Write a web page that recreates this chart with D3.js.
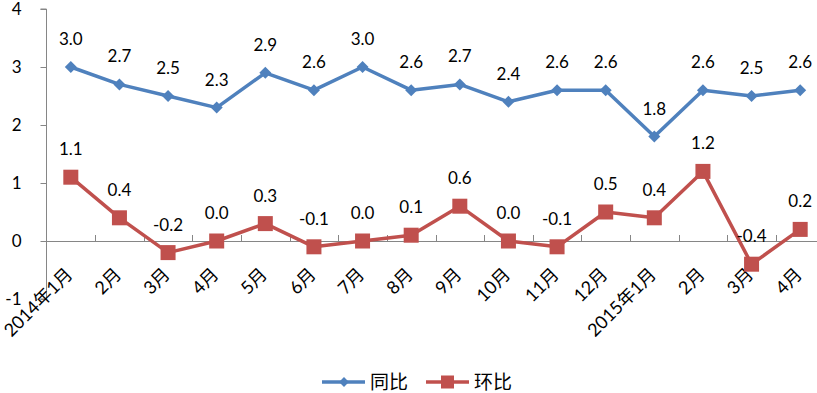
<!DOCTYPE html>
<html><head><meta charset="utf-8">
<script src="https://cdn.jsdelivr.net/npm/d3@7"></script>
<style>body{margin:0;background:#fff}svg{display:block}</style>
</head><body><svg id="c" width="817" height="393"></svg>
<script>
const categories = ["2014年1月","2月","3月","4月","5月","6月","7月","8月","9月","10月","11月","12月","2015年1月","2月","3月","4月"];
const tongbi = [3.0,2.7,2.5,2.3,2.9,2.6,3.0,2.6,2.7,2.4,2.6,2.6,1.8,2.6,2.5,2.6];
const huanbi = [1.1,0.4,-0.2,0.0,0.3,-0.1,0.0,0.1,0.6,0.0,-0.1,0.5,0.4,1.2,-0.4,0.2];
const yTicks = [-1,0,1,2,3,4];
const seriesNames = ["同比","环比"];
const colors = ["#4F81BD","#C0504D"];

const svg = d3.select("#c");
const font = "Lato, 'Noto Sans CJK SC', sans-serif";
const idx = categories.map((c,i)=>i);
const x = d3.scaleBand().domain(idx).range([46.5, 824.5]);
const cx = i => x(i) + x.bandwidth()/2;
const y = d3.scaleLinear().domain([-1,4]).range([299,9]);
const axisColor = "#868686";
const fmt1 = d => d3.format(".1f")(d).replace("\u2212","-");

// y axis
const ya = svg.append("g").attr("transform","translate(46.5,0)")
  .call(d3.axisLeft(y).tickValues(yTicks).tickSize(6).tickPadding(19).tickFormat(d=>String(d)));
ya.select(".domain").attr("stroke",axisColor).attr("d",`M-6,${y(4)}H0V${y(-1)}H-6`);
ya.selectAll(".tick line").attr("stroke",axisColor);
ya.selectAll(".tick text").attr("font-family",font).attr("font-size",17).attr("fill","#000");

// x axis at zero
const xa = svg.append("g").attr("transform",`translate(0,${y(0)})`);
xa.append("line").attr("x1",46.5).attr("x2",824.5).attr("y1",0.5).attr("y2",0.5).attr("stroke",axisColor);
const bounds = idx.map(i=>x(i)+x.bandwidth());
xa.selectAll("line.tk").data(bounds).join("line").attr("class","tk")
  .attr("x1",d=>Math.round(d)+0.5).attr("x2",d=>Math.round(d)+0.5).attr("y1",0).attr("y2",-6).attr("stroke",axisColor);

// x labels
svg.append("g").selectAll("text").data(idx).join("text")
  .attr("transform",i=>`translate(${cx(i)-1.5},${y(0)+30}) rotate(-45)`)
  .attr("text-anchor","end").attr("dy","0.35em")
  .attr("font-family",font).attr("font-size",18).attr("fill","#000").text(i=>categories[i]);

const line = d3.line().x((d,i)=>cx(i)).y(d=>y(d));
const data = [tongbi, huanbi];
data.forEach((vals,k)=>{
  const g = svg.append("g");
  g.append("path").datum(vals).attr("d",line).attr("fill","none").attr("stroke",colors[k]).attr("stroke-width",3.5).attr("stroke-linejoin","round");
  if(k===0){
    g.selectAll("path.m").data(vals).join("path").attr("class","m")
      .attr("d",d3.symbol(d3.symbolDiamond2,92)())
      .attr("transform",(d,i)=>`translate(${cx(i)},${y(d)})`)
      .attr("fill",colors[k]);
  } else {
    g.selectAll("rect").data(vals).join("rect")
      .attr("x",(d,i)=>cx(i)-7.5).attr("y",d=>y(d)-7.5)
      .attr("width",15).attr("height",15).attr("fill",colors[k]);
  }
  g.selectAll("text").data(vals).join("text")
    .attr("x",(d,i)=>cx(i)).attr("y",d=>y(d)-28)
    .attr("text-anchor","middle").attr("dy","0.35em")
    .attr("font-family",font).attr("font-size",17).attr("fill","#000")
    .text(d=>fmt1(d));
});

// legend
const leg = svg.append("g");
const lx = [322, 426];
seriesNames.forEach((n,k)=>{
  const gx = lx[k];
  leg.append("line").attr("x1",gx).attr("x2",gx+43).attr("y1",382).attr("y2",382).attr("stroke",colors[k]).attr("stroke-width",3.5);
  if(k===0) leg.append("path").attr("d",d3.symbol(d3.symbolDiamond2,62)()).attr("transform",`translate(${gx+22},382)`).attr("fill",colors[k]);
  else leg.append("rect").attr("x",gx+15).attr("y",375.5).attr("width",13).attr("height",13).attr("fill",colors[k]);
  leg.append("text").attr("x",gx+48).attr("y",382).attr("dy","0.35em").attr("font-family","'Noto Sans CJK SC', sans-serif").attr("font-size",19).attr("fill","#000").text(n);
});
</script></body></html>
